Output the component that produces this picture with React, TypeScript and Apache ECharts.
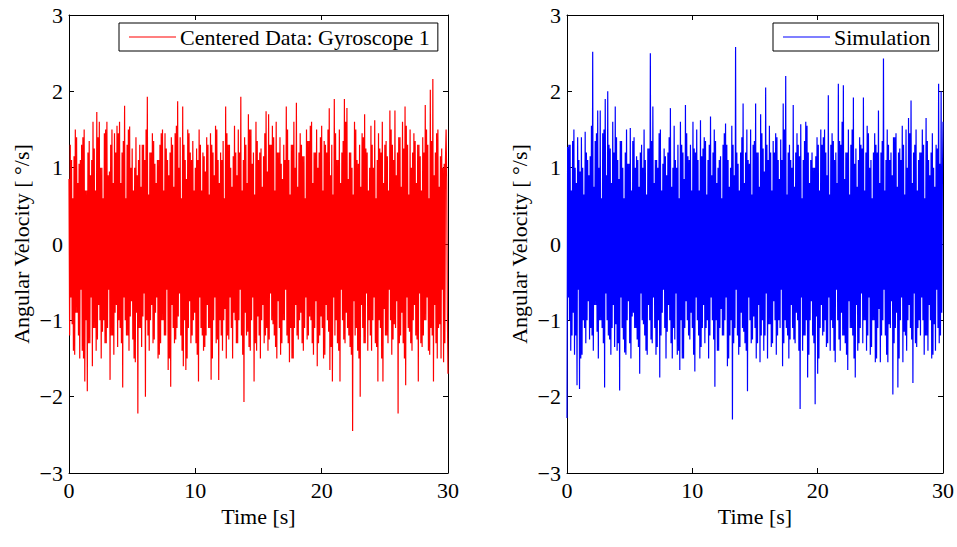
import React, { useEffect, useRef } from "react";
import * as echarts from "echarts";

// Sampling step of the merged series (seconds)
const SAMPLE_STEP = 0.05;

const xTicks = [0, 10, 20, 30];
const yTicks = [-3, -2, -1, 0, 1, 2, 3];

const leftLegend = "Centered Data: Gyroscope 1";
const rightLegend = "Simulation";
const xTitle = "Time [s]";
const yTitle = "Angular Velocity [ °/s]";

// Centered gyroscope data (deg/s): main peaks/troughs
const gyroPeaks = [
  0.85, -1.2, 1.1, -1.05, 1.15, -1.45, 1.4, -0.9, 1.05, -1.5, 1.3, -1.4, 1.5, -1.8, 0.7, -1.93, 1.35, -1.3, 1.1, -1.6,
  1.25, -1.1, 1.73, -1.25, 1.6, -1.0, 1.0, -1.15, 1.45, -1.3, 1.6, -1.1, 0.95, -1.78, 1.5, -1.2, 1.45, -0.9, 1.55, -1.35,
  1.6, -1.1, 1.2, -1.88, 1.81, -1.0, 1.3, -1.2, 1.54, -0.95, 1.25, -1.25, 1.0, -1.55, 0.9, -2.22, 1.3, -1.1, 1.3, -0.95,
  1.1, -2.0, 1.93, -1.2, 1.2, -1.0, 1.45, -1.3, 1.05, -0.9, 1.1, -1.5, 1.3, -1.3, 1.5, -1.0, 1.45, -1.2, 1.1, -1.65,
  1.2, -1.87, 1.3, -1.1, 1.45, -1.25, 1.87, -0.95, 1.4, -1.2, 1.8, -1.6, 1.1, -1.65, 1.5, -1.1, 1.2, -1.3, 1.35, -1.0,
  1.0, -1.3, 1.1, -1.8, 1.3, -1.1, 1.2, -1.4, 0.95, -1.2, 1.3, -1.1, 1.45, -1.78, 1.2, -1.0, 1.55, -1.3, 1.1, -1.78,
  1.2, -1.2, 1.35, -1.0, 1.8, -1.5, 1.3, -1.25, 1.0, -1.1, 1.15, -0.9, 1.2, -1.3, 1.5, -1.0, 1.93, -1.2, 1.1, -2.07,
  1.3, -1.2, 1.7, -1.35, 1.5, -1.0, 1.2, -1.8, 1.6, -1.4, 1.1, -1.2, 1.25, -1.0, 1.15, -1.3, 1.74, -1.1, 1.7, -1.25,
  1.3, -1.0, 1.4, -1.2, 1.6, -1.5, 1.2, -1.1, 1.05, -1.3, 1.3, -1.0, 1.8, -1.2, 1.1, -1.55, 1.3, -1.5, 1.6, -1.1,
  1.85, -1.2, 1.2, -1.0, 1.3, -1.3, 1.15, -1.1, 1.5, -1.25, 1.35, -0.95, 1.6, -1.3, 1.2, -1.1, 1.5, -1.6, 1.2, -1.2,
  1.55, -1.1, 1.35, -1.45, 1.2, -1.0, 1.78, -1.65, 1.3, -1.8, 1.9, -1.2, 1.1, -1.3, 1.5, -1.8, 1.2, -1.0, 1.9, -1.3,
  1.78, -1.1, 1.2, -1.35, 1.0, -2.45, 1.6, -1.2, 1.1, -1.4, 1.3, -2.0, 1.45, -1.1, 1.7, -1.3, 1.2, -1.4, 1.0, -1.2,
  1.3, -1.0, 1.62, -1.3, 1.1, -1.8, 1.25, -1.1, 1.6, -1.8, 1.3, -1.2, 1.15, -1.3, 1.75, -1.0, 1.3, -1.25, 1.75, -1.1,
  1.2, -2.22, 1.4, -1.2, 1.6, -1.3, 1.8, -1.85, 1.3, -1.1, 1.5, -1.3, 1.2, -1.0, 1.35, -1.2, 1.3, -1.8, 1.15, -1.3,
  1.4, -1.2, 1.82, -1.0, 1.3, -1.4, 2.02, -1.1, 2.16, -1.8, 1.2, -1.3, 1.5, -1.1, 1.15, -1.5, 1.0, -1.55, 1.1, 1.5,
  -1.7,
];

// Centered gyroscope data (deg/s): the denser in-between oscillation of the band
const gyroInner = [
  1.3, -0.7, 0.6, -1.4, 1.5, -0.9, 0.8, -1.2, 1.1, -0.6, 1.4, -1.5, 0.7, -1.0, 1.2, -1.3, 0.9, -0.7, 1.6, -1.1,
  0.7, -1.4, 1.4, -0.8, 1.0, -1.5, 0.6, -1.0, 1.5, -1.3, 0.9, -0.6, 1.3, -1.2, 0.8, -1.45, 1.2, -0.8, 1.45, -1.0,
  0.8, -1.3, 1.35, -0.7, 0.6, -1.2, 1.5, -1.4, 1.0, -0.75, 0.7, -1.5, 1.4, -0.9, 1.1, -1.1, 0.75, -1.35, 1.3, -0.65,
  1.5, -1.0, 0.65, -1.4, 1.2, -0.8, 1.35, -1.25, 0.8, -0.7, 1.1, -1.45, 1.45, -1.0, 0.7, -1.2, 1.25, -0.6, 0.9, -1.5,
  1.4, -0.8, 0.75, -1.3, 1.55, -1.1, 1.0, -0.65, 0.6, -1.4, 1.3, -1.0, 0.85, -1.5, 1.45, -0.75, 1.1, -1.2, 0.7, -0.9,
  1.25, -1.45, 1.5, -0.7, 0.7, -1.2, 1.15, -1.35, 1.4, -0.8, 0.65, -1.1, 1.3, -1.5, 0.9, -0.7, 1.5, -1.25, 0.8, -1.0,
  1.1, -1.4, 0.6, -0.85, 1.45, -1.2, 1.3, -0.7, 0.75, -1.5, 1.55, -1.0, 0.9, -1.3, 1.2, -0.6, 0.7, -1.45, 1.4, -0.9,
  0.8, -1.15, 1.5, -1.4, 1.05, -0.7, 0.65, -1.3, 1.35, -0.95, 1.2, -1.5, 0.75, -0.8, 1.45, -1.2, 0.95, -1.4, 1.3, -0.65,
  1.55, -1.05, 0.7, -1.35, 1.2, -0.75, 1.4, -1.45, 0.85, -1.0, 1.1, -0.6, 1.5, -1.3, 0.65, -1.1, 1.3, -1.5, 1.0, -0.8,
  0.75, -1.25, 1.45, -0.9, 1.15, -1.4, 0.6, -0.7, 1.35, -1.2, 1.55, -1.0, 0.8, -1.45, 1.2, -0.75, 1.0, -1.3, 1.4, -0.95,
  0.7, -1.5, 1.3, -0.8, 1.5, -1.15, 0.9, -1.35, 0.65, -0.7, 1.45, -1.0, 1.1, -1.4, 0.8, -0.6, 1.35, -1.25, 1.6, -0.9,
  0.85, -1.2, 1.2, -1.45, 0.65, -0.75, 1.5, -1.1, 1.05, -1.5, 0.75, -0.8, 1.4, -1.3, 1.25, -0.65, 0.7, -1.0, 1.55, -1.4,
  1.0, -0.7, 0.6, -1.35, 1.45, -1.0, 1.2, -1.5, 0.8, -0.85, 1.35, -1.2, 0.7, -0.6, 1.5, -1.45, 1.1, -1.05, 0.9, -0.75,
  1.4, -1.3, 0.75, -0.9, 1.25, -1.5, 1.55, -0.7, 0.65, -1.15, 1.0, -1.4, 1.45, -0.8, 0.8, -1.25, 1.3, -0.65, 0.7, -1.35,
  1.2, -1.0, 1.5, -0.7, 0.6, -1.45, 1.35, -1.2, 0.9, -0.8, 1.45, -1.5, 0.75, -1.05, 1.25, -0.6, 1.05, -1.3, 0.8, -0.9,
];

// Simulated signal (deg/s): main troughs/peaks
const simPeaks = [
  -2.28, 1.27, -1.0, 1.3, -1.2, 1.35, -1.45, 1.0, -1.85, 1.4, -1.9, 0.95, -1.45, 1.0, -1.1, 1.47, -1.0, 1.1, -1.25, 1.15,
  -1.2, 2.52, -0.8, 1.35, -1.15, 1.75, -1.0, 1.75, -1.1, 1.45, -1.88, 1.9, -1.0, 2.0, -1.25, 1.25, -1.1, 1.6, -1.35, 1.8,
  -1.4, 1.1, -1.92, 1.35, -1.1, 1.0, -1.42, 1.2, -1.0, 1.05, -1.3, 1.52, -0.95, 1.35, -1.1, 1.0, -1.25, 1.1, -1.7, 1.2,
  -1.0, 1.0, -1.2, 1.1, -1.45, 1.25, -1.0, 2.5, -1.3, 1.8, -1.1, 1.1, -1.35, 1.0, -1.75, 1.5, -0.9, 1.05, -1.1, 1.15,
  -1.15, 1.2, -1.0, 1.78, -1.5, 1.0, -1.25, 1.1, -1.45, 1.3, -1.65, 1.6, -1.5, 1.2, -1.1, 1.82, -1.0, 1.15, -1.25, 1.3,
  -1.1, 1.6, -1.67, 1.2, -1.0, 1.1, -1.5, 1.62, -1.1, 1.25, -1.3, 1.35, -1.0, 1.1, -1.2, 1.67, -1.0, 1.2, -1.87, 1.35,
  -1.4, 1.0, -1.1, 1.15, -1.2, 1.3, -1.0, 1.58, -1.6, 1.1, -1.2, 1.0, -2.3, 1.3, -1.1, 2.58, -1.2, 1.05, -1.35, 1.2,
  -1.1, 1.84, -1.3, 1.2, -1.93, 1.1, -1.0, 1.5, -1.25, 1.3, -1.1, 1.84, -1.3, 1.2, -1.55, 1.7, -1.0, 1.25, -1.2, 2.05,
  -1.5, 1.1, -1.05, 1.2, -1.3, 1.35, -1.0, 1.45, -1.2, 1.1, -1.1, 1.37, -1.6, 1.84, -1.0, 2.2, -1.2, 1.2, -1.25, 1.1,
  -1.1, 1.82, -1.3, 1.2, -1.0, 1.3, -2.16, 1.57, -1.4, 1.1, -1.2, 1.6, -1.75, 1.2, -1.0, 1.1, -1.2, 1.0, -2.1, 1.15,
  -1.7, 1.3, -1.1, 1.5, -1.2, 1.4, -1.0, 1.2, -1.3, 1.95, -1.4, 1.3, -1.1, 1.35, -1.55, 1.2, -1.0, 2.1, -1.4, 1.3,
  -1.2, 2.08, -1.3, 1.2, -1.65, 1.5, -1.1, 1.3, -1.2, 1.92, -1.75, 1.25, -1.4, 1.1, -1.1, 1.3, -1.3, 1.92, -1.0, 1.2,
  -1.2, 1.45, -1.45, 1.1, -1.0, 1.2, -1.55, 1.3, -1.1, 1.75, -1.55, 1.2, -1.0, 2.43, -1.2, 1.1, -1.55, 1.3, -1.1, 1.2,
  -1.97, 1.4, -1.1, 1.45, -1.88, 1.2, -1.0, 1.1, -1.55, 1.3, -1.2, 1.5, -1.0, 1.65, -1.1, 1.88, -1.82, 1.2, -1.3, 1.5,
  -1.1, 1.1, -1.2, 1.2, -1.0, 1.3, -1.2, 1.65, -1.4, 1.1, -1.0, 1.2, -1.45, 1.0, -1.4, 1.3, -1.1, 2.1, -1.2, 2.0,
  1.6,
];

// Simulated signal (deg/s): the denser in-between oscillation of the band
const simInner = [
  -0.7, 1.3, -1.4, 0.7, -0.9, 1.5, -1.2, 0.8, -0.6, 1.1, -1.5, 1.4, -1.0, 0.65, -1.3, 1.2, -0.75, 0.9, -1.1, 1.55,
  -1.4, 0.75, -0.8, 1.45, -1.5, 1.0, -1.0, 0.6, -1.3, 1.5, -0.65, 0.9, -1.2, 1.3, -1.45, 0.8, -0.8, 1.2, -1.05, 1.4,
  -1.3, 0.85, -0.7, 1.35, -1.25, 0.6, -1.45, 1.5, -0.75, 1.05, -1.5, 0.7, -0.9, 1.4, -1.1, 1.15, -1.35, 0.75, -0.65, 1.3,
  -1.05, 1.5, -1.4, 0.65, -0.8, 1.25, -1.25, 1.35, -0.7, 0.8, -1.45, 1.1, -1.0, 1.45, -1.2, 0.7, -0.6, 1.25, -1.5, 0.9,
  -0.8, 1.4, -1.3, 0.75, -1.1, 1.55, -0.65, 1.0, -1.4, 0.6, -1.0, 1.3, -1.5, 0.85, -0.75, 1.45, -1.2, 1.1, -0.9, 0.7,
  -1.45, 1.25, -0.7, 1.5, -1.2, 0.7, -1.35, 1.15, -0.8, 1.4, -1.1, 0.65, -1.5, 1.3, -0.7, 0.9, -1.25, 1.5, -1.0, 0.8,
  -1.4, 1.1, -0.85, 0.6, -1.2, 1.45, -0.7, 1.3, -1.5, 0.75, -1.0, 1.55, -1.3, 0.9, -0.6, 1.2, -1.45, 0.7, -0.9, 1.4,
  -1.15, 0.8, -1.4, 1.5, -0.7, 1.05, -1.3, 0.65, -0.95, 1.35, -1.5, 1.2, -0.8, 0.75, -1.2, 1.45, -1.4, 0.95, -0.65, 1.3,
  -1.05, 1.55, -1.35, 0.7, -0.75, 1.2, -1.45, 1.4, -1.0, 0.85, -0.6, 1.1, -1.3, 1.5, -1.1, 0.65, -1.5, 1.3, -0.8, 1.0,
  -1.25, 0.75, -0.9, 1.45, -1.4, 1.15, -0.7, 0.6, -1.2, 1.35, -1.0, 1.55, -1.45, 0.8, -0.75, 1.2, -1.3, 1.0, -0.95, 1.4,
  -1.5, 0.7, -0.8, 1.3, -1.15, 1.5, -1.35, 0.9, -0.7, 0.65, -1.0, 1.45, -1.4, 1.1, -0.6, 0.8, -1.25, 1.35, -0.9, 1.6,
  -1.2, 0.85, -1.45, 1.2, -0.75, 0.65, -1.1, 1.5, -1.5, 1.05, -0.8, 0.75, -1.3, 1.4, -0.65, 1.25, -1.0, 0.7, -1.4, 1.55,
  -0.7, 1.0, -1.35, 0.6, -1.0, 1.45, -1.5, 1.2, -0.85, 0.8, -1.2, 1.35, -0.6, 0.7, -1.45, 1.5, -1.05, 1.1, -0.75, 0.9,
  -1.3, 1.4, -0.9, 0.75, -1.5, 1.25, -0.7, 1.55, -1.15, 0.65, -1.4, 1.0, -0.8, 1.45, -1.25, 0.8, -0.65, 1.3, -1.35, 0.7,
  -1.0, 1.2, -0.7, 1.5, -1.45, 0.6, -1.2, 1.35, -0.8, 0.9, -1.5, 1.45, -1.05, 0.75, -0.6, 1.25, -1.3, 1.05, -0.9, 0.8,
];

const FONT = "'Liberation Serif', 'Times New Roman', serif";
const FS = 22;

// Interleave the two read-off sequences into one time series:
// two main samples, then two in-between samples, and so on.
function buildSeries(peaks: number[], inner: number[]) {
  const values: number[] = [];
  const pairs = Math.floor(peaks.length / 2);
  for (let j = 0; j < pairs; j++) {
    values.push(peaks[2 * j], peaks[2 * j + 1]);
    if (2 * j + 1 < inner.length) values.push(inner[2 * j], inner[2 * j + 1]);
  }
  if (peaks.length % 2 === 1) values.push(peaks[peaks.length - 1]);
  return values.map((v, i) => [Math.round(i * SAMPLE_STEP * 100) / 100, v]);
}

const fmtY = (v: number) => String(v).replace("-", "\u2212");

export default function App() {
  const ref = useRef<HTMLDivElement>(null);

  useEffect(() => {
    document.body.style.margin = "0";
    if (!ref.current) return;
    const chart = echarts.init(ref.current, null, { renderer: "svg" });

    const grids = [
      { left: 69, top: 15, width: 379, height: 458 },
      { left: 567, top: 15, width: 379, height: 458 },
    ];

    const tickStyle = { show: true, inside: true, length: 5, lineStyle: { color: "#000", width: 1 } };
    const lineStyle = { show: true, onZero: false, lineStyle: { color: "#000", width: 1 } };

    const xAxes: any[] = [];
    const yAxes: any[] = [];
    [0, 1].forEach((g) => {
      xAxes.push({
        type: "value",
        gridIndex: g,
        position: "bottom",
        min: xTicks[0],
        max: xTicks[xTicks.length - 1],
        interval: 10,
        axisLine: lineStyle,
        axisTick: tickStyle,
        splitLine: { show: false },
        axisLabel: { color: "#000", fontFamily: FONT, fontSize: FS, margin: 6 },
        name: xTitle,
        nameLocation: "middle",
        nameGap: 27,
        nameTextStyle: { color: "#000", fontFamily: FONT, fontSize: FS },
      });
      xAxes.push({
        type: "value",
        gridIndex: g,
        position: "top",
        min: xTicks[0],
        max: xTicks[xTicks.length - 1],
        interval: 10,
        axisLine: lineStyle,
        axisTick: tickStyle,
        splitLine: { show: false },
        axisLabel: { show: false },
      });
      yAxes.push({
        type: "value",
        gridIndex: g,
        position: "left",
        min: yTicks[0],
        max: yTicks[yTicks.length - 1],
        interval: 1,
        axisLine: lineStyle,
        axisTick: tickStyle,
        splitLine: { show: false },
        axisLabel: { color: "#000", fontFamily: FONT, fontSize: FS, margin: 6, formatter: fmtY },
        name: yTitle,
        nameLocation: "middle",
        nameGap: 37,
        nameTextStyle: { color: "#000", fontFamily: FONT, fontSize: FS },
      });
      yAxes.push({
        type: "value",
        gridIndex: g,
        position: "right",
        min: yTicks[0],
        max: yTicks[yTicks.length - 1],
        interval: 1,
        axisLine: lineStyle,
        axisTick: tickStyle,
        splitLine: { show: false },
        axisLabel: { show: false },
      });
    });

    const legendCommon = {
      top: 23,
      orient: "horizontal",
      padding: [3, 8, 3, 10],
      icon: "rect",
      itemWidth: 47,
      itemHeight: 1,
      itemGap: 0,
      borderColor: "#000",
      borderWidth: 1,
      backgroundColor: "#fff",
      textStyle: { color: "#000", fontFamily: FONT, fontSize: FS, padding: [0, 0, 0, -1] },
    };

    chart.setOption({
      animation: false,
      backgroundColor: "#fff",
      grid: grids,
      xAxis: xAxes,
      yAxis: yAxes,
      legend: [
        { ...legendCommon, left: 119, data: [leftLegend] },
        { ...legendCommon, left: 773, data: [rightLegend] },
      ],
      series: [
        {
          name: leftLegend,
          type: "line",
          xAxisIndex: 0,
          yAxisIndex: 0,
          data: buildSeries(gyroPeaks, gyroInner),
          symbol: "none",
          showSymbol: false,
          lineStyle: { color: "#ff0000", width: 1.2 },
          itemStyle: { color: "#ff0000" },
          z: 1,
        },
        {
          name: rightLegend,
          type: "line",
          xAxisIndex: 2,
          yAxisIndex: 2,
          data: buildSeries(simPeaks, simInner),
          symbol: "none",
          showSymbol: false,
          lineStyle: { color: "#0000ff", width: 1.2 },
          itemStyle: { color: "#0000ff" },
          z: 1,
        },
      ],
    });

    return () => chart.dispose();
  }, []);

  return <div ref={ref} style={{ width: 957, height: 547 }} />;
}
